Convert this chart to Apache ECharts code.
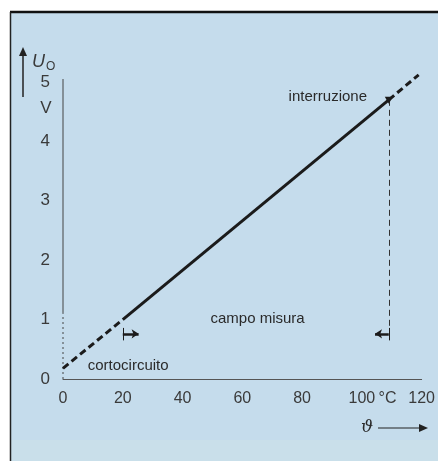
<!DOCTYPE html>
<html>
<head>
<meta charset="utf-8">
<script src="https://cdn.jsdelivr.net/npm/echarts@6/dist/echarts.min.js"></script>
<style>
  html, body { margin: 0; padding: 0; background: #ffffff; }
  #chart { width: 438px; height: 461px; }
</style>
</head>
<body>
<div id="chart"></div>
<script>
// Sensor output voltage U_O against temperature ϑ
const theta = [0, 20, 109, 119];          // °C
const uo = [0.18, 1.0, 4.7, 5.12];        // V
const xTicks = [0, 20, 40, 60, 80, 100, 120];
const yTicks = [0, 1, 2, 3, 4, 5];
const rangeStart = 20;                    // start of measuring range, °C
const rangeEnd = 109;                     // interruption point, °C
const rangeMarkU = 0.76;                  // height of the range markers, V
const axisSplitU = 1.1;                   // y-axis drawn dotted below this value

const pt = i => [theta[i], uo[i]];
const lowerPart = [pt(0), pt(1)];
const measuredPart = [pt(1), pt(2)];
const upperPart = [pt(2), pt(3)];

const ink = '#1b1b1b';
const textCol = '#3a3a3a';
const font = 'Liberation Sans, Arial, sans-serif';

const chart = echarts.init(document.getElementById('chart'), null, { renderer: 'canvas' });

const option = {
  backgroundColor: '#ffffff',
  animation: false,
  grid: { left: 63, right: 12, top: 82, bottom: 82, containLabel: false },
  xAxis: {
    type: 'value', min: xTicks[0], max: xTicks[xTicks.length - 1], interval: 20,
    axisLine: { show: true, lineStyle: { color: '#555', width: 1 } },
    axisTick: { show: false },
    splitLine: { show: false },
    axisLabel: { color: textCol, fontFamily: font, fontSize: 16, margin: 12 }
  },
  yAxis: {
    type: 'value', min: yTicks[0], max: yTicks[yTicks.length - 1], interval: 1,
    axisLine: { show: false },
    axisTick: { show: false },
    splitLine: { show: false },
    axisLabel: { color: textCol, fontFamily: font, fontSize: 17, margin: 13 }
  },
  series: [
    {
      name: 'asse-tratteggiato', type: 'line', clip: false, symbol: 'none', silent: true,
      data: [[0, 0], [0, axisSplitU]],
      lineStyle: { color: '#444', width: 1, type: [2, 3] }
    },
    {
      name: 'asse', type: 'line', clip: false, symbol: 'none', silent: true,
      data: [[0, axisSplitU], [0, yTicks[yTicks.length - 1] + 0.05]],
      lineStyle: { color: '#444', width: 1 }
    },
    {
      name: 'cortocircuito', type: 'line', clip: false, symbol: 'none',
      data: lowerPart,
      lineStyle: { color: ink, width: 3, type: [7, 4] }
    },
    {
      name: 'campo misura', type: 'line', clip: false, symbol: 'none',
      data: measuredPart,
      lineStyle: { color: ink, width: 3 },
      markLine: {
        silent: true, animation: false,
        symbol: ['none', 'none'],
        label: { show: false },
        lineStyle: { color: '#333', width: 1, type: [6, 4] },
        data: [
          [{ coord: [rangeEnd, uo[2]] }, { coord: [rangeEnd, rangeMarkU - 0.1] }]
        ]
      }
    },
    {
      name: 'interruzione', type: 'line', clip: false, symbol: 'none',
      data: upperPart,
      lineStyle: { color: ink, width: 3, type: [7, 4] }
    },
    {
      name: 'limiti', type: 'line', clip: false, symbol: 'none', data: [],
      markLine: {
        silent: true, animation: false,
        label: { show: false },
        symbol: ['none', 'arrow'], symbolSize: [7, 7],
        lineStyle: { color: ink, width: 2.5, type: 'solid' },
        data: [
          [{ coord: [rangeStart, rangeMarkU] }, { coord: [rangeStart + 5.3, rangeMarkU] }],
          [{ coord: [rangeEnd, rangeMarkU] }, { coord: [rangeEnd - 4.6, rangeMarkU] }],
          [{ coord: [rangeStart, rangeMarkU + 0.1], symbol: 'none' }, { coord: [rangeStart, rangeMarkU - 0.11], symbol: 'none', lineStyle: { width: 1 } }],
          [{ coord: [rangeEnd, rangeMarkU + 0.1], symbol: 'none' }, { coord: [rangeEnd, rangeMarkU - 0.11], symbol: 'none', lineStyle: { width: 1 } }]
        ]
      }
    }
  ]
};
chart.setOption(option);

// Annotations anchored in data space
const px = (x, y) => chart.convertToPixel({ gridIndex: 0 }, [x, y]);
const notes = [
  { at: [88.6, 4.75], text: 'interruzione' },
  { at: [65.1, 1.01], text: 'campo misura' },
  { at: [21.8, 0.22], text: 'cortocircuito' }
];
const noteEls = notes.map(n => {
  const p = px(n.at[0], n.at[1]);
  return {
    type: 'text', x: p[0], y: p[1], z: 10,
    style: { text: n.text, fill: '#2a2a2a', font: '15px ' + font, align: 'center', verticalAlign: 'middle' }
  };
});
const vPos = px(0, 4.55);
const degPos = px(108.6, 0);
const endPt = px(rangeEnd, uo[2]);

chart.setOption({
  graphic: [
    // panel background and frame
    { type: 'rect', shape: { x: 10, y: 12, width: 428, height: 449 }, style: { fill: '#c5dcec' }, z: -10, silent: true },
    { type: 'rect', shape: { x: 10, y: 440, width: 428, height: 21 }, style: { fill: '#c9dfea' }, z: -9, silent: true },
    { type: 'line', shape: { x1: 10, y1: 12, x2: 438, y2: 12 }, style: { stroke: '#111', lineWidth: 2.5 }, z: 5 },
    { type: 'line', shape: { x1: 10.5, y1: 12, x2: 10.5, y2: 461 }, style: { stroke: '#222', lineWidth: 1.5 }, z: 5 },
    // unit label on the voltage axis
    { type: 'text', x: vPos[0] - 17, y: vPos[1], style: { text: 'V', fill: textCol, font: '17px ' + font, align: 'center', verticalAlign: 'middle' } },
    // unit label on the temperature axis
    { type: 'text', x: degPos[0], y: degPos[1] + 20, style: { text: '°C', fill: textCol, font: '16px ' + font, align: 'center', verticalAlign: 'middle' } },
    // marker at the interruption point
    { type: 'polygon', shape: { points: [[endPt[0] - 4, endPt[1] - 3], [endPt[0] + 4, endPt[1] - 3], [endPt[0], endPt[1] + 4]] }, style: { fill: ink }, z: 12 },
    // U_O quantity with upward arrow
    { type: 'line', shape: { x1: 23, y1: 97, x2: 23, y2: 54 }, style: { stroke: '#222', lineWidth: 1.5 } },
    { type: 'polygon', shape: { points: [[19, 56], [27, 56], [23, 47]] }, style: { fill: '#222' } },
    {
      type: 'text', x: 32, y: 62,
      style: {
        text: '{u|U}{o|O}', verticalAlign: 'middle',
        rich: {
          u: { font: 'italic 18px ' + font, fill: textCol },
          o: { font: '12px ' + font, fill: textCol, padding: [9, 0, 0, 1] }
        }
      }
    },
    // ϑ quantity with rightward arrow
    { type: 'text', x: 367, y: 428, style: { text: 'ϑ', fill: '#2a2a2a', font: 'italic 17px DejaVu Serif, serif', align: 'center', verticalAlign: 'middle' } },
    { type: 'line', shape: { x1: 378, y1: 428, x2: 421, y2: 428 }, style: { stroke: '#222', lineWidth: 1.2 } },
    { type: 'polygon', shape: { points: [[419, 424], [419, 432], [428, 428]] }, style: { fill: '#222' } }
  ].concat(noteEls)
});
</script>
</body>
</html>
